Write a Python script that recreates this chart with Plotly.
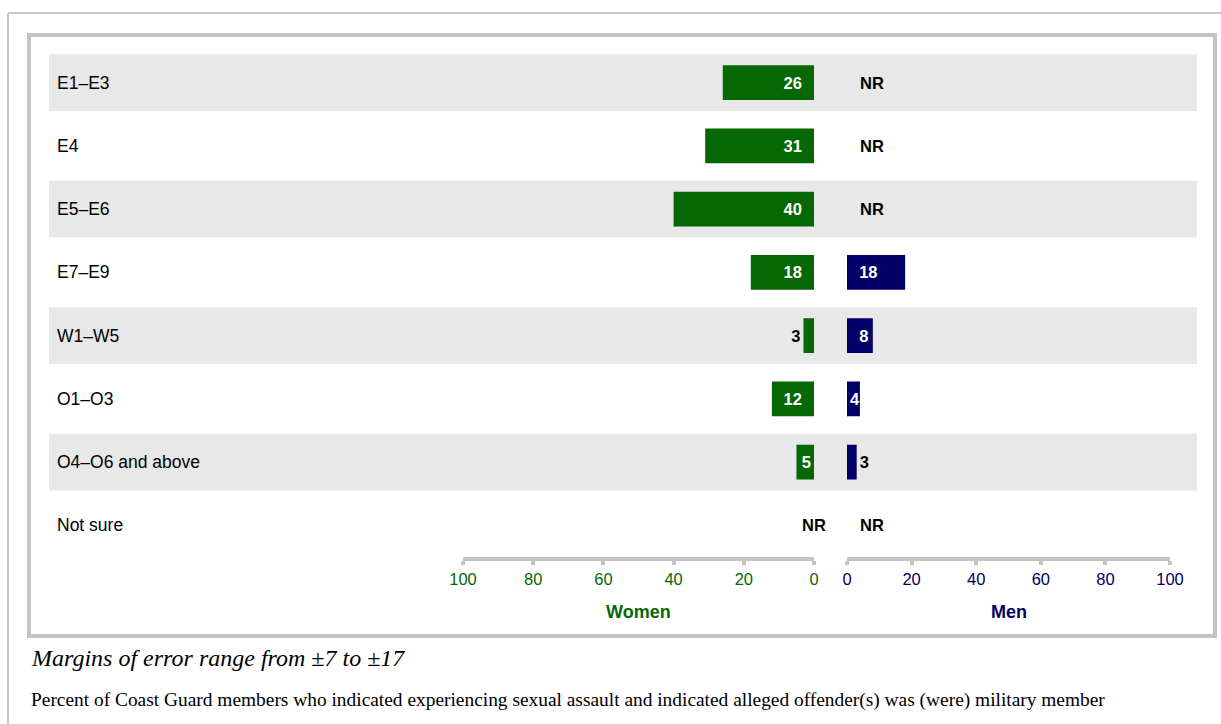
import plotly.graph_objects as go

# ---------------------------------------------------------------
# Data
# ---------------------------------------------------------------
groups = ["E1\u2013E3", "E4", "E5\u2013E6", "E7\u2013E9", "W1\u2013W5",
          "O1\u2013O3", "O4\u2013O6 and above", "Not sure"]
women = [26, 31, 40, 18, 3, 12, 5, None]   # None = NR
men = [None, None, None, 18, 8, 4, 3, None]
ticks = [0, 20, 40, 60, 80, 100]

note = "Margins of error range from \u00b17 to \u00b117"
caption = ("Percent of Coast Guard members who indicated experiencing sexual assault "
           "and indicated alleged offender(s) was (were) military member")

green = "#056805"
navy = "#000066"
grey_line = "#c3c3c3"
band = "#e8e8e8"

W, H = 1221, 724
def px(x): return x / W
def py(y): return 1 - y / H

rows = list(range(len(groups)))
pad = "\u00a0\u00a0"

def labels(vals, side):
    # label inside the bar (white, near the base) unless the bar is tiny
    pos, txt = [], []
    for v in vals:
        if v is None:
            txt.append(""); pos.append("none")
            continue
        t = "<b>%d</b>" % v
        if v >= 8:
            t = t + pad if side == "left" else pad + t
        txt.append(t)
        pos.append("outside" if v <= 3 else "inside")
    return txt, pos

fig = go.Figure()

wt, wp = labels(women, "left")
fig.add_trace(go.Bar(y=rows, x=[v if v is not None else 0 for v in women],
                     orientation="h", xaxis="x", yaxis="y", width=0.55,
                     marker=dict(color=green, line=dict(width=0)),
                     text=wt, textposition=wp, insidetextanchor="start",
                     insidetextfont=dict(color="white", size=16.5, family="Liberation Sans"),
                     outsidetextfont=dict(color="black", size=16.5, family="Liberation Sans"),
                     cliponaxis=False, hoverinfo="skip"))

mt, mp = labels(men, "right")
fig.add_trace(go.Bar(y=rows, x=[v if v is not None else 0 for v in men],
                     orientation="h", xaxis="x2", yaxis="y", width=0.55,
                     marker=dict(color=navy, line=dict(width=0)),
                     text=mt, textposition=mp, insidetextanchor="start",
                     insidetextfont=dict(color="white", size=16.5, family="Liberation Sans"),
                     outsidetextfont=dict(color="black", size=16.5, family="Liberation Sans"),
                     cliponaxis=False, hoverinfo="skip"))

shapes = []
# outer light frame
shapes.append(dict(type="line", xref="paper", yref="paper", x0=px(8), x1=1.01,
                   y0=py(13), y1=py(13), line=dict(color="#c8c8c8", width=2)))
shapes.append(dict(type="line", xref="paper", yref="paper", x0=px(8), x1=px(8),
                   y0=py(13), y1=-0.01, line=dict(color="#c8c8c8", width=2)))
# inner thick frame
shapes.append(dict(type="rect", xref="paper", yref="paper", x0=px(29), x1=px(1215),
                   y0=py(636), y1=py(35), line=dict(color=grey_line, width=4)))
# alternating row bands
for i in rows:
    if i % 2 == 0 and i < len(groups) - 1:
        shapes.append(dict(type="rect", xref="paper", yref="y", x0=px(49), x1=px(1197),
                           y0=i - 0.45, y1=i + 0.45, fillcolor=band,
                           line=dict(width=0), layer="below"))

annotations = []
for i, g in enumerate(groups):
    annotations.append(dict(text=g, xref="paper", yref="y", x=px(55), y=i,
                            xanchor="left", yanchor="middle", showarrow=False,
                            font=dict(size=17.5, color="black", family="Liberation Sans")))
    if women[i] is None:
        annotations.append(dict(text="<b>NR</b>", xref="x", yref="y", x=0, y=i,
                                xanchor="center", yanchor="middle", showarrow=False,
                                font=dict(size=16.5, color="black", family="Liberation Sans")))
    if men[i] is None:
        annotations.append(dict(text="<b>NR</b>", xref="x2", yref="y", x=3.3, y=i,
                                xanchor="left", yanchor="middle", showarrow=False,
                                font=dict(size=16.5, color="black", family="Liberation Sans")))

annotations.append(dict(text="<b>Women</b>", xref="paper", yref="paper", x=px(638), y=py(612),
                        xanchor="center", yanchor="middle", showarrow=False,
                        font=dict(size=18, color=green, family="Liberation Sans")))
annotations.append(dict(text="<b>Men</b>", xref="paper", yref="paper", x=px(1009), y=py(612),
                        xanchor="center", yanchor="middle", showarrow=False,
                        font=dict(size=18, color=navy, family="Liberation Sans")))
annotations.append(dict(text="<i>" + note + "</i>", xref="paper", yref="paper", x=px(29), y=py(658),
                        xanchor="left", yanchor="middle", showarrow=False,
                        font=dict(size=24, color="black", family="Liberation Serif")))
annotations.append(dict(text=caption, xref="paper", yref="paper", x=px(29), y=py(700),
                        xanchor="left", yanchor="middle", showarrow=False,
                        font=dict(size=19.4, color="black", family="Liberation Serif")))

axis_common = dict(showgrid=False, zeroline=False, showline=True, linecolor=grey_line,
                   linewidth=4, ticks="outside", ticklen=4, tickwidth=4, tickcolor=grey_line,
                   tickvals=ticks, anchor="y", fixedrange=True, automargin=False)

fig.update_layout(
    width=W, height=H, autosize=False,
    margin=dict(l=0, r=0, t=0, b=0, pad=0),
    paper_bgcolor="white", plot_bgcolor="rgba(0,0,0,0)",
    showlegend=False,
    uniformtext=dict(mode="show", minsize=16.5),
    xaxis=dict(domain=[px(463), px(814)], range=[100, 0],
               tickfont=dict(size=16.5, color=green, family="Liberation Sans"), **axis_common),
    xaxis2=dict(domain=[px(847), px(1170)], range=[0, 100],
                tickfont=dict(size=16.5, color=navy, family="Liberation Sans"), **axis_common),
    yaxis=dict(domain=[py(557), py(51)], range=[7.5, -0.5], visible=False, fixedrange=True),
    shapes=shapes,
    annotations=annotations,
)

fig.write_html("out.html", config={"responsive": False, "displayModeBar": False},
               post_script="document.body.style.margin='0';document.body.style.overflow='hidden';")
